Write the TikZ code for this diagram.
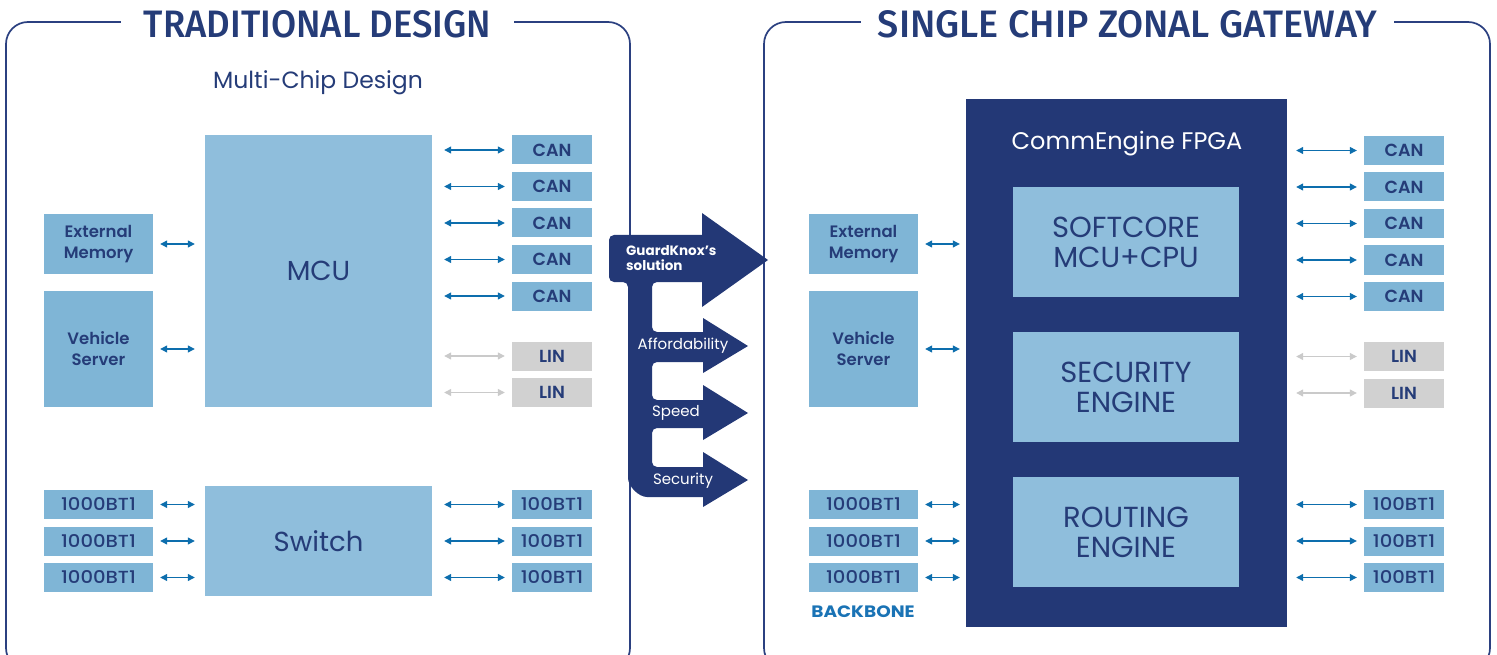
\documentclass[tikz,border=0pt]{standalone}
\usepackage{graphicx}
\usepackage{fontspec}
\setmainfont{Poppins}
\newfontfamily\semifont{Poppins SemiBold}
\newfontfamily\widefont[FakeStretch=1.12]{Poppins Medium}
\newfontfamily\widebold[FakeStretch=1.12]{Poppins Bold}
\newfontfamily\titlefont{Fira Sans Medium}
\usetikzlibrary{arrows.meta}

\definecolor{navy}{HTML}{233876}
\definecolor{textblue}{HTML}{253C78}
\definecolor{panelline}{HTML}{2B4080}
\definecolor{chipblue}{HTML}{8FBEDC}
\definecolor{portblue}{HTML}{7FB5D6}
\definecolor{linkblue}{HTML}{0D6EAD}
\definecolor{portgrey}{HTML}{D1D1D1}
\definecolor{linkgrey}{HTML}{CACACA}
\definecolor{backbone}{HTML}{1A73B5}

\tikzset{
  panel/.style={draw=panelline, line width=1.7pt, rounded corners=22pt},
  paneltitle/.style={fill=white, text=textblue, inner ysep=2pt, font=\titlefont},
  chip/.style={fill=chipblue, text=textblue, minimum width=227pt, minimum height=#1,
    inner sep=0pt, align=center, font=\fontsize{27.5}{30}\selectfont},
  engine/.style={chip=110pt, minimum width=226pt, font=\fontsize{29}{30}\selectfont},
  sidebox/.style={fill=portblue, text=textblue, minimum width=109pt, minimum height=#1,
    inner sep=0pt, align=center, font=\semifont\fontsize{16.5}{21}\selectfont},
  port/.style={fill=portblue, text=textblue, minimum width=80pt, minimum height=29pt,
    inner sep=0pt, font=\semifont\fontsize{17.5}{18}\selectfont},
  linport/.style={port, fill=portgrey},
  bt/.style={port, font=\widefont\fontsize{17.5}{18}\selectfont},
  gig/.style={bt, minimum width=109pt},
  link/.style={draw=linkblue, line width=1.2pt,
    {Triangle[length=7pt,width=7pt]}-{Triangle[length=7pt,width=7pt]}},
  greylink/.style={link, draw=linkgrey},
  solution/.style={text=white, inner sep=0pt, font=\fontsize{15}{16}\selectfont}
}

\begin{document}
\begin{tikzpicture}[x=1pt, y=-1pt]
  \useasboundingbox (0,0) rectangle (1497,655);

  % two panels with their titles
  \draw[panel] (6,22) rectangle (630,670);
  \draw[panel] (764,22) rectangle (1490,670);
  \node[paneltitle, inner xsep=23pt] (titleL) at (317.5,24.5)
    {\resizebox{347pt}{27pt}{TRADITIONAL DESIGN}};
  \node[paneltitle, inner xsep=17pt] (titleR) at (1127.5,24.5)
    {\resizebox{499pt}{27pt}{SINGLE CHIP ZONAL GATEWAY}};
  \node[text=textblue, font=\fontsize{23.5}{26}\selectfont] (multi) at (318,83) {Multi-Chip Design};

  % traditional design
  \node[chip=272pt] (mcu) at (318.5,271) {MCU};
  \node[chip=110pt] (switch) at (318.5,541) {Switch};
  \node[sidebox=60pt] (extmemL) at (98.5,244) {External\\Memory};
  \node[sidebox=116pt] (vehsrvL) at (98.5,349) {Vehicle\\Server};
  \draw[link, shorten <=7pt, shorten >=10pt] (extmemL) -- (mcu.west |- extmemL);
  \draw[link, shorten <=7pt, shorten >=10pt] (vehsrvL) -- (mcu.west |- vehsrvL);
  \foreach \i/\y in {1/150,2/186.5,3/223,4/259.5,5/296} {
    \node[port] (canL\i) at (552,\y) {CAN};
    \draw[link, shorten <=12pt, shorten >=7pt] (mcu.east |- canL\i) -- (canL\i);
  }
  \foreach \i/\y in {1/356,2/392.5} {
    \node[linport] (linL\i) at (552,\y) {LIN};
    \draw[greylink, shorten <=12pt, shorten >=7pt] (mcu.east |- linL\i) -- (linL\i);
  }
  \foreach \i/\y in {1/504.5,2/541,3/577.5} {
    \node[gig] (gigL\i) at (98.5,\y) {1000BT1};
    \node[bt] (fastL\i) at (552,\y) {100BT1};
    \draw[link, shorten <=7pt, shorten >=10pt] (gigL\i) -- (switch.west |- gigL\i);
    \draw[link, shorten <=12pt, shorten >=7pt] (switch.east |- fastL\i) -- (fastL\i);
  }

  % guardknox arrow
  \fill[navy, rounded corners=5pt] (660,235) -- (712,235) -- (712,282) -- (652,282)
    -- (652,332) -- (712,332) -- (712,362) -- (652,362)
    -- (652,400) -- (712,400) -- (712,428) -- (652,428)
    -- (652,467) -- (712,467) -- (712,497) -- (652,497)
    arc[start angle=90, end angle=180, radius=24] -- (628,282) -- (609,282)
    -- (609,235) -- cycle;
  \fill[navy] (702,213) -- (768,260) -- (702,307) -- cycle;
  \foreach \y in {346,413,480} {
    \fill[navy] (703,\y-28) -- (748,\y) -- (703,\y+27) -- cycle;
  }
  \node[solution, anchor=west, align=left, font=\bfseries\fontsize{13.5}{14.5}\selectfont]
    (guard) at (626,258) {GuardKnox's\\solution};
  \node[solution] (afford) at (683,346) {Affordability};
  \node[solution] (speed) at (676,413) {Speed};
  \node[solution] (secur) at (683,481) {Security};

  % single chip zonal gateway
  \node[fill=navy, minimum width=321pt, minimum height=528pt] (fpga) at (1126.5,363) {};
  \node[text=white, font=\fontsize{24}{26}\selectfont] (fpganame) at (1127,144) {CommEngine FPGA};
  \node[engine] (softcore) at (1126,242) {SOFTCORE\\MCU+CPU};
  \node[engine] (security) at (1126,387) {SECURITY\\ENGINE};
  \node[engine] (routing) at (1126,532) {ROUTING\\ENGINE};
  \node[sidebox=60pt] (extmemR) at (863.5,244) {External\\Memory};
  \node[sidebox=116pt] (vehsrvR) at (863.5,349) {Vehicle\\Server};
  \draw[link, shorten <=7pt, shorten >=6pt] (extmemR) -- (fpga.west |- extmemR);
  \draw[link, shorten <=7pt, shorten >=6pt] (vehsrvR) -- (fpga.west |- vehsrvR);
  \foreach \i/\y in {1/150.5,2/187,3/223.5,4/260,5/296.5} {
    \node[port] (canR\i) at (1404,\y) {CAN};
    \draw[link, shorten <=9pt, shorten >=7pt] (fpga.east |- canR\i) -- (canR\i);
  }
  \foreach \i/\y in {1/356.5,2/393} {
    \node[linport] (linR\i) at (1404,\y) {LIN};
    \draw[greylink, shorten <=9pt, shorten >=7pt] (fpga.east |- linR\i) -- (linR\i);
  }
  \foreach \i/\y in {1/504.5,2/541,3/577.5} {
    \node[gig] (gigR\i) at (863.5,\y) {1000BT1};
    \node[bt] (fastR\i) at (1404,\y) {100BT1};
    \draw[link, shorten <=7pt, shorten >=6pt] (gigR\i) -- (fpga.west |- gigR\i);
    \draw[link, shorten <=9pt, shorten >=7pt] (fpga.east |- fastR\i) -- (fastR\i);
  }
  \node[text=backbone, font=\widebold\fontsize{16.5}{18}\selectfont] (bbone) at (863,612) {BACKBONE};
\end{tikzpicture}
\end{document}
